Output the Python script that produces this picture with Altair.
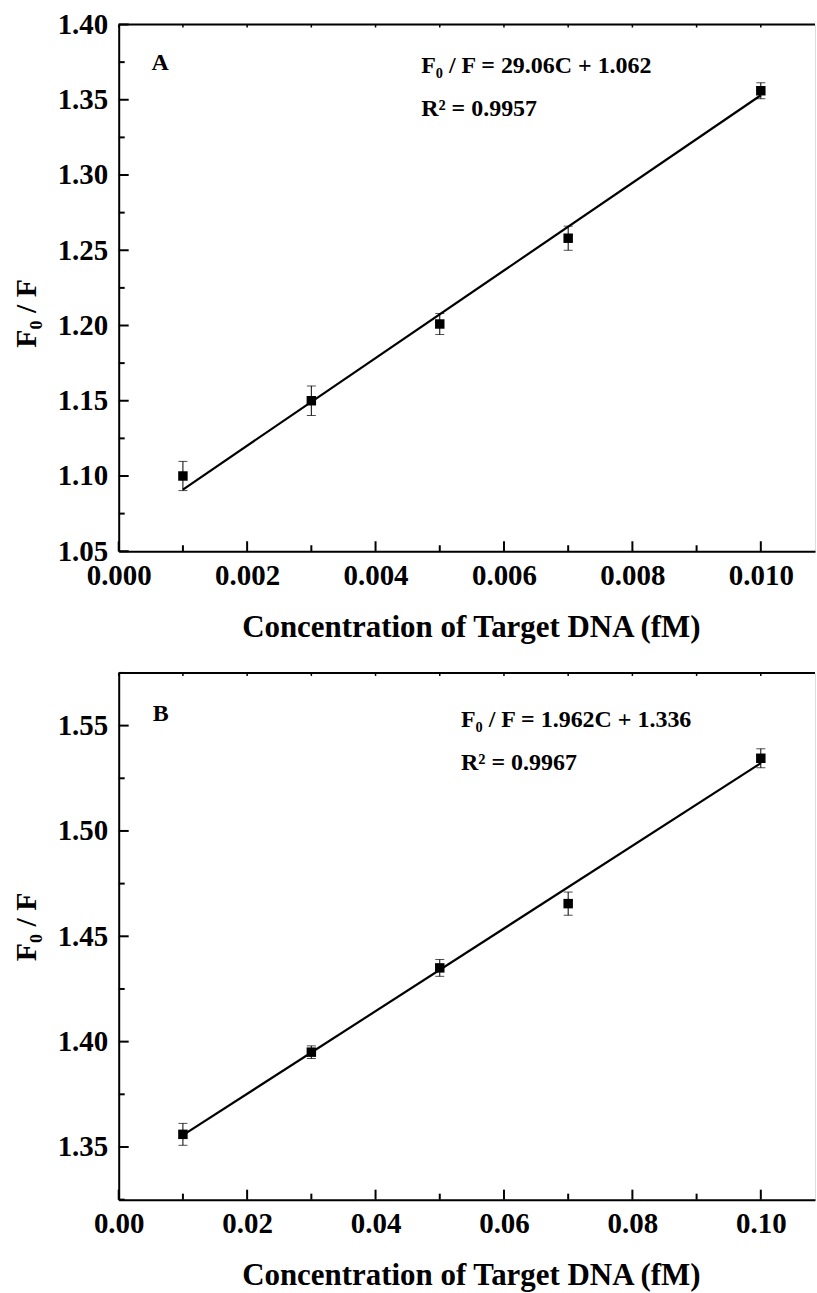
import altair as alt
import pandas as pd

# ---------------- data ----------------
A_conc = [0.001, 0.003, 0.005, 0.007, 0.010]
A_ratio = [1.100, 1.150, 1.201, 1.258, 1.356]
A_err = [0.0097, 0.0098, 0.0070, 0.0080, 0.0053]
A_fit_x = [0.001, 0.010]
A_fit_y = [1.091, 1.353]
A_xticks = [0.000, 0.002, 0.004, 0.006, 0.008, 0.010]
A_xminor = [0.001, 0.003, 0.005, 0.007, 0.009]
A_yticks = [1.05, 1.10, 1.15, 1.20, 1.25, 1.30, 1.35, 1.40]
A_yminor = [1.075, 1.125, 1.175, 1.225, 1.275, 1.325, 1.375]
A_eq = ["F\u2080 / F = 29.06C + 1.062", "R\u00b2 = 0.9957"]

B_conc = [0.01, 0.03, 0.05, 0.07, 0.10]
B_ratio = [1.356, 1.395, 1.435, 1.4655, 1.5345]
B_err = [0.0052, 0.0030, 0.0040, 0.0055, 0.0045]
B_fit_x = [0.01, 0.10]
B_fit_y = [1.3556, 1.5322]
B_xticks = [0.00, 0.02, 0.04, 0.06, 0.08, 0.10]
B_xminor = [0.01, 0.03, 0.05, 0.07, 0.09]
B_yticks = [1.35, 1.40, 1.45, 1.50, 1.55]
B_yminor = [1.325, 1.375, 1.425, 1.475, 1.525, 1.575]
B_eq = ["F\u2080 / F = 1.962C + 1.336", "R\u00b2 = 0.9967"]

XTITLE = "Concentration of Target DNA (fM)"
YTITLE = "F\u2080 / F"
FONT = "Liberation Serif"

W = 698
H = 528


def panel(conc, ratio, err, fit_x, fit_y, xticks, xminor, yticks, yminor,
          xdom, ydom, xfmt, letter, letter_pos, eq, eq_pos, ytitle_y):
    pts = pd.DataFrame({"x": conc, "y": ratio,
                        "lo": [r - e for r, e in zip(ratio, err)],
                        "hi": [r + e for r, e in zip(ratio, err)]})
    fit = pd.DataFrame({"x": fit_x, "y": fit_y})
    xs = alt.Scale(domain=xdom, nice=False, zero=False)
    ys = alt.Scale(domain=ydom, nice=False, zero=False)
    xaxis = alt.Axis(values=xticks, format=xfmt, ticks=False, grid=False,
                     domain=True, domainWidth=2, domainColor="black",
                     labelFont=FONT, labelFontWeight="bold", labelFontSize=29,
                     labelColor="black", labelPadding=10, labelFlush=False,
                     labelOverlap=False,
                     title=XTITLE, titleFont=FONT, titleFontWeight="bold",
                     titleFontSize=31, titleColor="black",
                     titleX=353, titleY=76, titleBaseline="middle",
                     titleAlign="center", titleAnchor="start")
    yaxis = alt.Axis(values=yticks, format=".2f", ticks=False, grid=False,
                     domain=True, domainWidth=2, domainColor="black",
                     labelFont=FONT, labelFontWeight="bold", labelFontSize=29,
                     labelColor="black", labelPadding=11, labelFlush=False,
                     labelOverlap=False,
                     title=YTITLE, titleFont=FONT, titleFontWeight="bold",
                     titleFontSize=30, titleColor="black", titleAngle=270,
                     titleX=-92, titleY=ytitle_y, titleBaseline="middle",
                     titleAlign="center", titleAnchor="start")
    X = lambda f: alt.X(f, type="quantitative", scale=xs, axis=xaxis)
    Y = lambda f: alt.Y(f, type="quantitative", scale=ys, axis=yaxis)

    line = alt.Chart(fit).mark_line(color="black", strokeWidth=2.2).encode(
        x=X("x"), y=Y("y"))
    bars = alt.Chart(pts).mark_rule(color="black", strokeWidth=1).encode(
        x=X("x"), y=Y("lo"), y2="hi")
    cap_lo = alt.Chart(pts).mark_tick(color="black", orient="horizontal",
                                      size=9, thickness=1).encode(x=X("x"), y=Y("lo"))
    cap_hi = alt.Chart(pts).mark_tick(color="black", orient="horizontal",
                                      size=9, thickness=1).encode(x=X("x"), y=Y("hi"))
    dots = alt.Chart(pts).mark_square(color="black", size=90, opacity=1).encode(
        x=X("x"), y=Y("y"))

    ymaj = alt.Chart(pd.DataFrame({"v": yticks})).mark_rule(
        color="black", strokeWidth=2).encode(y=Y("v"), x=alt.value(0), x2=alt.value(10))
    ymin = alt.Chart(pd.DataFrame({"v": yminor})).mark_rule(
        color="black", strokeWidth=2).encode(y=Y("v"), x=alt.value(0), x2=alt.value(6))
    xmaj = alt.Chart(pd.DataFrame({"v": xticks})).mark_rule(
        color="black", strokeWidth=2).encode(x=X("v"), y=alt.value(H), y2=alt.value(H - 10))
    xmin = alt.Chart(pd.DataFrame({"v": xminor})).mark_rule(
        color="black", strokeWidth=2).encode(x=X("v"), y=alt.value(H), y2=alt.value(H - 6))
    top_ticks = alt.Chart(pd.DataFrame({"v": sorted(xticks + xminor)})).mark_rule(
        color="black", strokeWidth=1.5).encode(x=X("v"), y=alt.value(0), y2=alt.value(3))
    top = alt.Chart(pd.DataFrame({"v": [0]})).mark_rule(
        color="black", strokeWidth=2).encode(x=alt.value(0), x2=alt.value(W), y=alt.value(0))

    let = alt.Chart(pd.DataFrame({"x": [letter_pos[0]], "y": [letter_pos[1]],
                                  "t": [letter]})).mark_text(
        font=FONT, fontWeight="bold", fontSize=24, align="left",
        baseline="alphabetic", color="black").encode(x=X("x"), y=Y("y"), text="t")
    ann = alt.Chart(pd.DataFrame({"x": [eq_pos[0]] * 2, "y": eq_pos[1],
                                  "t": eq})).mark_text(
        font=FONT, fontWeight="bold", fontSize=24, align="left",
        baseline="alphabetic", color="black").encode(x=X("x"), y=Y("y"), text="t")

    return alt.layer(line, bars, cap_lo, cap_hi, dots, ymaj, ymin, xmaj, xmin,
                     top_ticks, top, let, ann).properties(width=W, height=H)


pA = panel(A_conc, A_ratio, A_err, A_fit_x, A_fit_y, A_xticks, A_xminor,
           A_yticks, A_yminor, [0, 0.010844], [1.05, 1.40], ".3f",
           "A", (0.00051, 1.3695), A_eq, (0.00471, [1.3675, 1.339]), 289)
pB = panel(B_conc, B_ratio, B_err, B_fit_x, B_fit_y, B_xticks, B_xminor,
           B_yticks, B_yminor, [0, 0.10844], [1.325, 1.575], ".2f",
           "B", (0.0053, 1.5524), B_eq, (0.0533, [1.5494, 1.5288]), 254)

chart = alt.vconcat(pA, pB, spacing=122, bounds="flush").properties(
    padding={"left": 11, "top": 8, "right": 0, "bottom": 0}
).configure_view(stroke=None).configure(background="white")

chart.save("out.html", embed_options={"renderer": "svg", "actions": False})
